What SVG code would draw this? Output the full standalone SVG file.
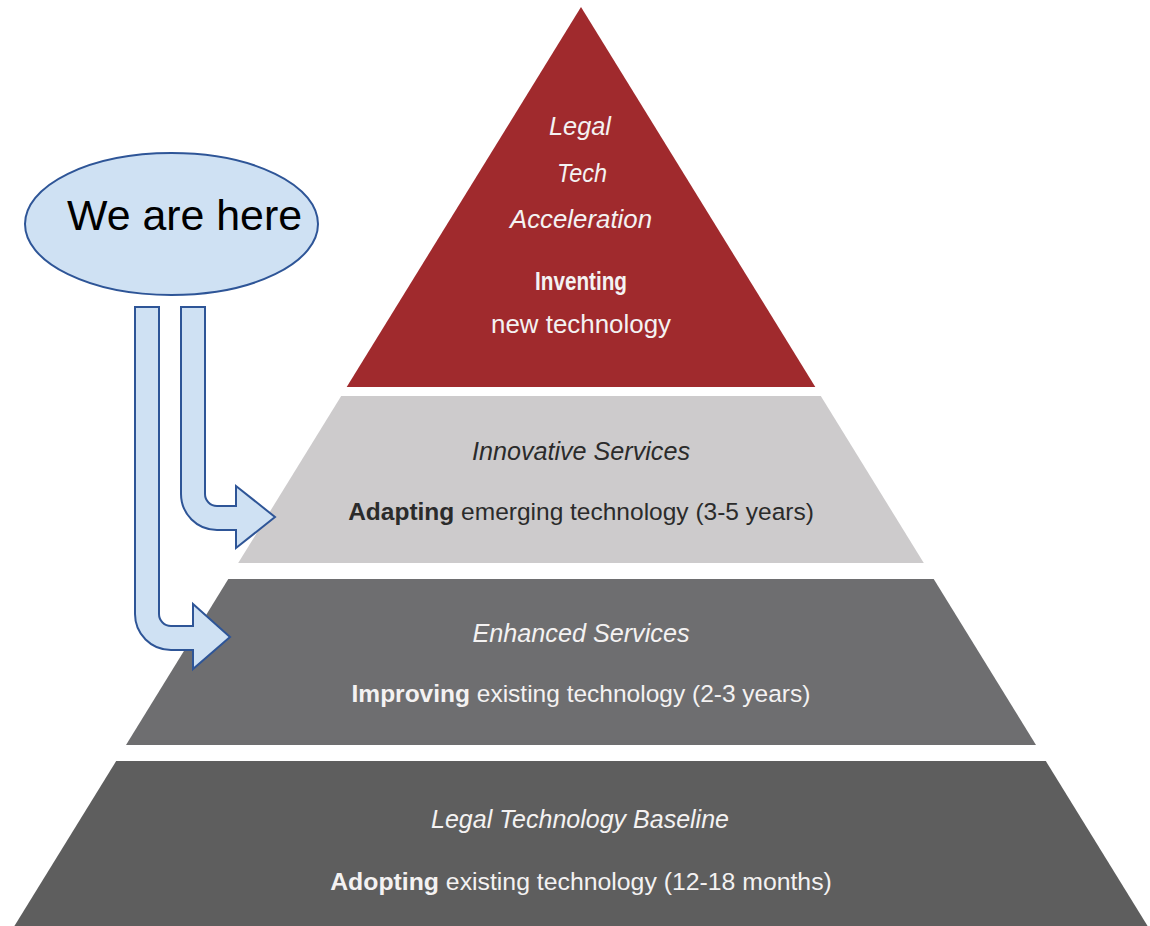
<svg xmlns="http://www.w3.org/2000/svg" width="1150" height="926" viewBox="0 0 1150 926">
  <style>
    .t { font-family: "Liberation Sans", Arial, sans-serif; text-anchor: middle; }
    .it { font-style: italic; font-size: 25px; }
    .rg { font-size: 26px; }
    .ln { font-size: 24.5px; }
    .bd { font-size: 26px; font-weight: bold; }
    .b { font-weight: bold; }
    .w { fill: #f4f2f2; }
    .d { fill: #2b2b2b; }
    .callout { fill: #cfe1f3; stroke: #2e5597; stroke-width: 2; }
  </style>
  <rect width="1150" height="926" fill="#ffffff"/>

  <g id="tier-top">
    <polygon points="581,7 346.7,387 815.3,387" fill="#a02a2d"/>
    <text class="t it w" x="580" y="135" textLength="62" lengthAdjust="spacingAndGlyphs">Legal</text>
    <text class="t it w" x="582" y="182" textLength="50" lengthAdjust="spacingAndGlyphs">Tech</text>
    <text class="t it w" x="581" y="228" textLength="142" lengthAdjust="spacingAndGlyphs">Acceleration</text>
    <text class="t bd w" x="581" y="290" textLength="92" lengthAdjust="spacingAndGlyphs">Inventing</text>
    <text class="t rg w" x="581" y="333" textLength="180" lengthAdjust="spacingAndGlyphs">new technology</text>
  </g>

  <g id="tier-innovative">
    <polygon points="341.2,396 820.8,396 923.8,563 238.2,563" fill="#cdcbcc"/>
    <text class="t it d" x="581" y="460" textLength="218" lengthAdjust="spacingAndGlyphs">Innovative Services</text>
    <text class="t ln d" x="581" y="520"><tspan class="b">Adapting</tspan> emerging technology (3-5 years)</text>
  </g>

  <g id="tier-enhanced">
    <polygon points="228.3,579 933.7,579 1036,745 126,745" fill="#6e6e70"/>
    <text class="t it w" x="581" y="642" textLength="217" lengthAdjust="spacingAndGlyphs">Enhanced Services</text>
    <text class="t ln w" x="581" y="702"><tspan class="b">Improving</tspan> existing technology (2-3 years)</text>
  </g>

  <g id="tier-baseline">
    <polygon points="116.2,761 1045.8,761 1147.6,926 14.4,926" fill="#5e5e5e"/>
    <text class="t it w" x="580" y="828" textLength="298" lengthAdjust="spacingAndGlyphs">Legal Technology Baseline</text>
    <text class="t w" x="581" y="890" font-size="24.8"><tspan class="b">Adopting</tspan> existing technology (12-18 months)</text>
  </g>

  <g id="callout">
    <ellipse class="callout" cx="171.5" cy="224" rx="146.5" ry="71"/>
    <text x="184.5" y="230" font-family="Liberation Sans, Arial, sans-serif" font-size="42" fill="#000000" text-anchor="middle" textLength="235" lengthAdjust="spacingAndGlyphs">We are here</text>
  </g>

  <g id="connectors">
    <path class="callout" d="M181,307 L205,307 L205,494 A12,12 0 0 0 217,506 L236,506 L236,486 L275,517 L236,548 L236,530 L217,530 A36,36 0 0 1 181,494 Z"/>
    <path class="callout" d="M135,307 L159,307 L159,614 A12,12 0 0 0 171,626 L193,626 L193,604 L230,637 L193,669 L193,650 L171,650 A36,36 0 0 1 135,614 Z"/>
  </g>
</svg>
